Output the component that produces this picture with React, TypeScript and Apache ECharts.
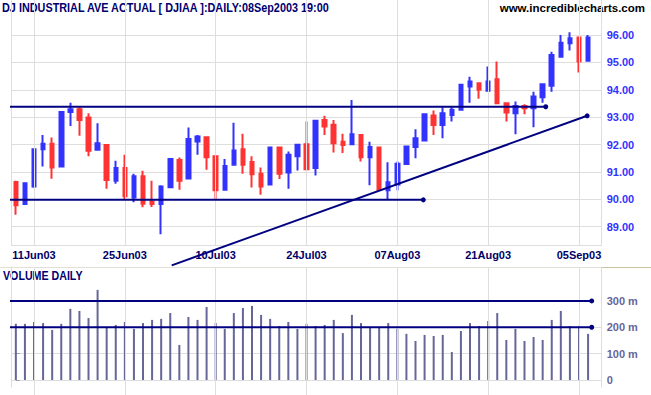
import React, { useEffect, useRef } from "react";
import * as echarts from "echarts";

const dates: string[] = [
  "09Jun03","10Jun03","11Jun03","12Jun03","13Jun03","16Jun03","17Jun03","18Jun03","19Jun03","20Jun03",
  "23Jun03","24Jun03","25Jun03","26Jun03","27Jun03","30Jun03",
  "01Jul03","02Jul03","03Jul03","07Jul03","08Jul03","09Jul03","10Jul03","11Jul03","14Jul03","15Jul03",
  "16Jul03","17Jul03","18Jul03","21Jul03","22Jul03","23Jul03","24Jul03","25Jul03","28Jul03","29Jul03",
  "30Jul03","31Jul03",
  "01Aug03","04Aug03","05Aug03","06Aug03","07Aug03","08Aug03","11Aug03","12Aug03","13Aug03","14Aug03",
  "15Aug03","18Aug03","19Aug03","20Aug03","21Aug03","22Aug03","25Aug03","26Aug03","27Aug03","28Aug03",
  "29Aug03",
  "02Sep03","03Sep03","04Sep03","05Sep03","08Sep03",
];
// one empty slot to the right of the last session
const categories: string[] = [...dates, ""];

const tickLabels: string[] = ["11Jun03", "25Jun03", "10Jul03", "24Jul03", "07Aug03", "21Aug03", "05Sep03"];

const opens: number[] = [
  90.63, 89.83, 90.47, 91.83, 92.03, 91.2, 93.19, 93.29, 92.99, 91.81,
  91.98, 90.68, 91.14, 90.07, 90.84, 89.92, 89.83, 90.44, 91.44, 90.76,
  92.11, 92.27, 91.57, 90.35, 91.26, 91.83, 91.36, 90.93, 90.54, 91.89,
  90.98, 91.57, 92.01, 91.14, 92.9, 92.72, 92.1, 92.01, 92.35, 91.54,
  91.89, 90.33, 90.54, 91.29, 91.91, 92.15, 93.06, 92.71, 93.08, 93.27,
  94.12, 94.24, 93.96, 94.38, 93.51, 93.14, 93.41, 93.33, 93.73, 94.15,
  95.21, 95.7, 95.91, 95.06,
];
const closes: number[] = [
  89.78, 90.59, 91.83, 92.03, 91.16, 93.19, 93.29, 92.9, 91.77, 92.05,
  90.71, 91.14, 90.11, 90.84, 89.84, 89.83, 90.47, 91.47, 90.68, 92.2,
  92.29, 91.54, 90.33, 91.22, 91.78, 91.26, 90.92, 90.47, 91.89, 90.93,
  91.63, 91.99, 91.1, 92.87, 92.66, 92.05, 91.98, 92.38, 91.54, 91.91,
  90.35, 90.62, 91.3, 91.93, 92.23, 93.11, 92.71, 93.14, 93.27, 94.18,
  94.3, 94.0, 94.3, 93.51, 93.17, 93.41, 93.33, 93.75, 94.2, 95.27,
  95.72, 95.88, 95.03, 95.91,
];
const lows: number[] = [
  89.44, 89.8, 90.42, 91.2, 90.75, 91.18, 92.68, 92.32, 91.57, 91.79,
  90.39, 90.57, 90.01, 89.89, 89.71, 89.72, 88.72, 90.42, 90.35, 90.74,
  91.63, 91.08, 89.99, 90.33, 91.24, 90.93, 90.43, 90.17, 90.52, 90.74,
  90.39, 91.05, 91.08, 90.87, 92.35, 91.71, 91.69, 91.99, 91.38, 90.51,
  90.33, 89.99, 90.33, 91.27, 91.5, 92.11, 92.35, 92.23, 92.84, 93.25,
  93.53, 93.67, 93.93, 93.5, 92.84, 92.38, 93.11, 92.63, 93.53, 93.93,
  95.19, 95.43, 94.63, 95.04,
];
const highs: number[] = [
  90.68, 90.62, 91.86, 92.35, 92.26, 93.21, 93.53, 93.36, 93.14, 92.78,
  92.0, 91.41, 91.63, 90.93, 91.04, 90.68, 90.51, 91.49, 91.53, 92.62,
  92.35, 92.29, 91.6, 91.47, 92.8, 92.39, 91.57, 91.16, 91.9, 91.9,
  91.75, 92.03, 92.84, 92.89, 93.05, 92.9, 92.39, 93.63, 92.37, 92.1,
  91.9, 91.35, 91.38, 91.95, 92.56, 93.12, 93.24, 93.36, 93.36, 94.2,
  94.48, 94.25, 94.85, 95.03, 93.52, 93.57, 93.47, 93.93, 94.22, 95.39,
  96.0, 96.1, 95.93, 96.0,
];
// volume in millions
const volumes: number[] = [
  213, 213, 220, 216, 190, 213, 270, 262, 235, 342,
  199, 209, 220, 194, 216, 228, 232, 254, 133, 239,
  228, 277, 216, 194, 254, 273, 281, 247, 232, 205,
  220, 194, 213, 205, 209, 228, 178, 247, 216, 201,
  201, 216, 194, 175, 148, 171, 167, 171, 106, 186,
  216, 205, 224, 254, 152, 194, 148, 163, 152, 228,
  262, 205, 205, 175,
];

// drawn lines: [session index, value]
const resistanceLine: number[][] = [[-1.75, 93.38], [58.34, 93.38]];
const supportLine: number[][] = [[-1.75, 89.98], [44.86, 89.98]];
const trendLine: number[][] = [[17.16, 87.59], [62.9, 93.05]];
const volLine300: number[][] = [[-1.75, 300], [63.4, 300]];
const volLine200: number[][] = [[-1.75, 200], [63.4, 200]];
const volumeTicks: number[] = [0, 100, 200, 300];

const NAVY = "#000080";
const GRID = "#dedede";
const LEFT = 11.3;
const WIDTH = 590.4;
const FONT = "Liberation Sans";

export default function App() {
  const ref = useRef<HTMLDivElement>(null);
  useEffect(() => {
    if (!ref.current) return;
    const chart = echarts.init(ref.current, undefined, { renderer: "svg" });

    const drawn = (pts: number[][], xi: number, yi: number) => ({
      type: "line",
      xAxisIndex: xi,
      yAxisIndex: yi,
      clip: false,
      silent: true,
      z: 5,
      data: pts.map((p, i) => ({
        value: p,
        symbol: i === 0 ? "none" : "circle",
        symbolSize: 5,
      })),
      lineStyle: { color: NAVY, width: 2 },
      itemStyle: { color: NAVY },
    });

    const hiddenCat = (gridIndex: number) => ({
      type: "category",
      gridIndex,
      data: categories,
      boundaryGap: true,
      axisLine: { show: false },
      axisTick: { show: false },
      axisLabel: { show: false },
      splitLine: { show: false },
    });
    const hiddenVal = (gridIndex: number) => ({
      type: "value",
      gridIndex,
      min: -0.5,
      max: 64.5,
      show: false,
    });
    const frameY = (gridIndex: number, position: string) => ({
      type: "value",
      gridIndex,
      position,
      axisLine: { show: true, lineStyle: { color: GRID, width: 1 } },
      axisTick: { show: false },
      axisLabel: { show: false },
      splitLine: { show: false },
    });
    const vlines = (xi: number, yi: number) => ({
      type: "line",
      xAxisIndex: xi,
      yAxisIndex: yi,
      data: [],
      silent: true,
      z: 0,
      markLine: {
        silent: true,
        symbol: ["none", "none"],
        label: { show: false },
        lineStyle: { color: GRID, width: 1, type: "solid" },
        data: tickLabels.map((d) => ({ xAxis: d })),
      },
    });

    chart.setOption({
      animation: false,
      backgroundColor: "#ffffff",
      grid: [
        { left: LEFT, width: WIDTH, top: 18, height: 227 },
        { left: LEFT, width: WIDTH, top: 274.9, height: 112.1 },
        { left: LEFT, width: WIDTH, top: 0, height: 245 },
        { left: LEFT, width: WIDTH, top: 267, height: 128 },
        { left: LEFT, width: WIDTH, top: 267, height: 120 },
      ],
      xAxis: [
        {
          type: "category",
          gridIndex: 0,
          data: categories,
          boundaryGap: true,
          axisLine: { show: true, lineStyle: { color: GRID, width: 1 } },
          axisTick: { show: false },
          splitLine: { show: false },
          axisLabel: {
            interval: (_i: number, v: string) => tickLabels.includes(v),
            color: "#000066",
            fontFamily: FONT,
            fontWeight: "bold",
            fontSize: 11,
            margin: 4,
          },
        },
        hiddenVal(0),
        {
          type: "category",
          gridIndex: 1,
          data: categories,
          boundaryGap: true,
          axisLine: { show: true, lineStyle: { color: GRID, width: 1 } },
          axisTick: { show: false },
          axisLabel: { show: false },
          splitLine: { show: false },
        },
        hiddenVal(1),
        hiddenCat(2),
        hiddenCat(3),
        hiddenCat(4),
      ],
      yAxis: [
        {
          type: "value",
          gridIndex: 0,
          position: "right",
          min: 88.332,
          max: 96.621,
          splitNumber: 8,
          axisLine: { show: false },
          axisTick: { show: false },
          splitLine: { show: true, showMaxLine: false, lineStyle: { color: GRID, width: 1 } },
          axisLabel: {
            showMinLabel: false,
            showMaxLabel: false,
            margin: 5,
            color: "#3333ff",
            fontFamily: FONT,
            fontWeight: "bold",
            fontSize: 11,
            formatter: (v: number) => v.toFixed(2),
          },
        },
        {
          type: "value",
          gridIndex: 1,
          position: "right",
          min: -26.6,
          max: 398.8,
          splitNumber: 4,
          axisLine: { show: false },
          axisTick: {
            show: true,
            length: 4,
            customValues: volumeTicks,
            lineStyle: { color: "#a0a0a0" },
          },
          splitLine: {
            show: true,
            showMinLine: false,
            showMaxLine: false,
            lineStyle: { color: GRID, width: 1 },
          },
          axisLabel: {
            customValues: volumeTicks,
            margin: 5,
            color: "#666699",
            fontFamily: FONT,
            fontWeight: "bold",
            fontSize: 11,
            formatter: (v: number) => (v === 0 ? "0" : `${v} m`),
          },
        },
        frameY(2, "left"),
        frameY(2, "right"),
        { type: "value", gridIndex: 3, show: false },
        frameY(4, "left"),
        frameY(4, "right"),
      ],
      graphic: [
        {
          type: "line",
          silent: true,
          shape: { x1: 0, y1: 267.5, x2: 602, y2: 267.5 },
          style: { stroke: "#e2e0d6", lineWidth: 1 },
        },
        {
          type: "line",
          silent: true,
          shape: { x1: 602, y1: 267.5, x2: 651, y2: 267.5 },
          style: { stroke: "#cac4a6", lineWidth: 1 },
        },
        {
          type: "text",
          x: 2,
          y: 8,
          scaleX: 0.835,
          silent: true,
          style: {
            text: "DJ INDUSTRIAL AVE ACTUAL [ DJIAA ]:DAILY:08Sep2003 19:00",
            fill: "#000070",
            fontFamily: FONT,
            fontWeight: "bold",
            fontSize: 13,
            verticalAlign: "middle",
          },
        },
        {
          type: "text",
          x: 645,
          y: 8,
          silent: true,
          style: {
            text: "www.incrediblecharts.com",
            fill: "#000000",
            fontFamily: FONT,
            fontWeight: "bold",
            fontSize: 11.5,
            align: "right",
            verticalAlign: "middle",
          },
        },
        {
          type: "text",
          x: 3,
          y: 275.5,
          scaleX: 0.82,
          silent: true,
          style: {
            text: "VOLUME DAILY",
            fill: "#000070",
            fontFamily: FONT,
            fontWeight: "bold",
            fontSize: 13,
            verticalAlign: "middle",
          },
        },
      ],
      series: [
        vlines(4, 2),
        vlines(5, 4),
        {
          type: "candlestick",
          xAxisIndex: 0,
          yAxisIndex: 0,
          barWidth: 4,
          z: 3,
          data: dates.map((_, i) => [opens[i], closes[i], lows[i], highs[i]]),
          itemStyle: {
            color: "#3333ff",
            color0: "#ff3333",
            borderColor: "#3333ff",
            borderColor0: "#ff3333",
            borderWidth: 2,
          },
        },
        drawn(resistanceLine, 1, 0),
        drawn(supportLine, 1, 0),
        drawn(trendLine, 1, 0),
        {
          type: "bar",
          xAxisIndex: 2,
          yAxisIndex: 1,
          barWidth: 2,
          z: 3,
          data: volumes,
          itemStyle: { color: "#666699" },
        },
        drawn(volLine300, 3, 1),
        drawn(volLine200, 3, 1),
      ],
    });
    return () => chart.dispose();
  }, []);

  return (
    <div
      ref={ref}
      style={{ position: "absolute", left: 0, top: 0, width: 651, height: 395, background: "#fff" }}
    />
  );
}
